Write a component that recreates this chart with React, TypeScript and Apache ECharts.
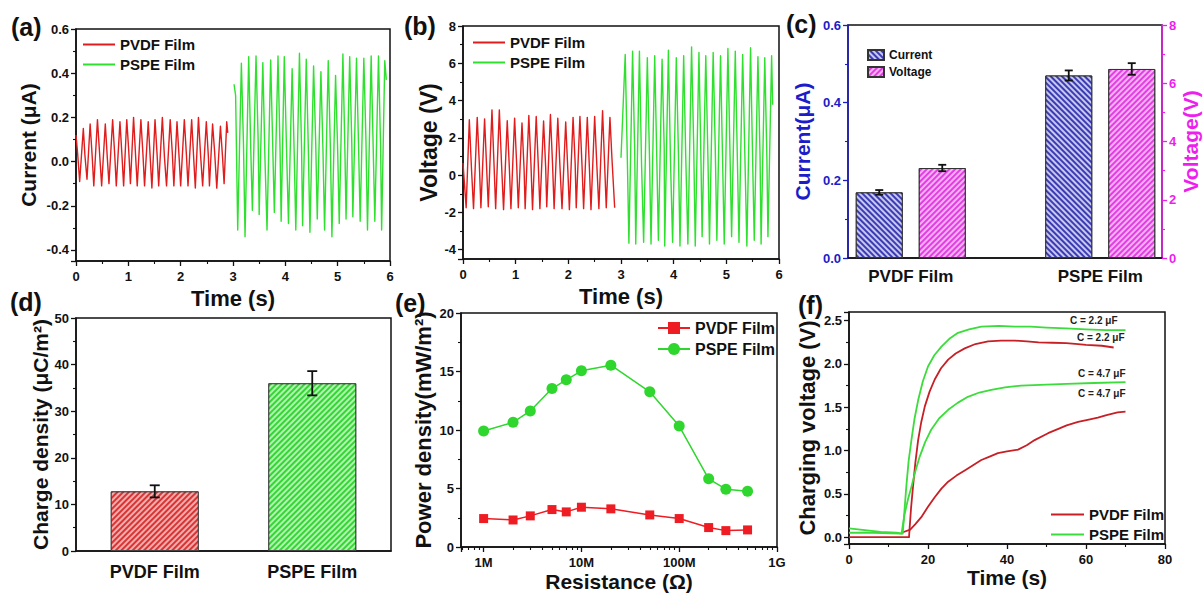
import React, { useEffect, useRef } from 'react';
import * as echarts from 'echarts';

const FONT = '"Liberation Sans", Arial, Helvetica, sans-serif';
const INK = '#111111';

// ---------- (a) current vs time ----------
const aPvdf: number[][] = [
  [0.00, 0.12], [0.03, 0.04],
  [0.07, -0.09], [0.14, 0.15], [0.17, 0.03],
  [0.21, -0.08], [0.27, 0.17], [0.31, 0.02],
  [0.34, -0.11], [0.41, 0.19], [0.45, 0.04],
  [0.49, -0.11], [0.56, 0.17], [0.60, 0.01],
  [0.63, -0.10], [0.70, 0.19], [0.74, 0.03],
  [0.77, -0.11], [0.84, 0.18], [0.88, 0.02],
  [0.91, -0.11], [0.97, 0.19], [1.01, 0.04],
  [1.04, -0.10], [1.10, 0.20], [1.14, 0.02],
  [1.17, -0.11], [1.24, 0.19], [1.28, 0.03],
  [1.31, -0.11], [1.38, 0.18], [1.42, 0.01],
  [1.45, -0.12], [1.51, 0.19], [1.55, 0.03],
  [1.58, -0.11], [1.65, 0.20], [1.69, 0.02],
  [1.73, -0.11], [1.80, 0.19], [1.84, 0.04],
  [1.87, -0.11], [1.93, 0.18], [1.97, 0.02],
  [2.00, -0.11], [2.07, 0.19], [2.11, 0.03],
  [2.14, -0.11], [2.21, 0.19], [2.25, 0.01],
  [2.28, -0.12], [2.34, 0.20], [2.38, 0.03],
  [2.42, -0.11], [2.49, 0.18], [2.53, 0.02],
  [2.55, -0.11], [2.61, 0.17], [2.65, 0.04],
  [2.69, -0.12], [2.76, 0.16], [2.80, 0.02],
  [2.83, -0.10], [2.88, 0.18], [2.90, 0.13],
];
const aPspe: number[][] = [
  [3.02, 0.35], [3.05, 0.30],
  [3.09, -0.31], [3.16, 0.445], [3.20, 0.08],
  [3.23, -0.34], [3.30, 0.475], [3.34, 0.05],
  [3.37, -0.22], [3.44, 0.478], [3.48, 0.10],
  [3.50, -0.24], [3.57, 0.448], [3.61, 0.02],
  [3.65, -0.31], [3.72, 0.46], [3.76, 0.06],
  [3.79, -0.23], [3.86, 0.478], [3.90, 0.04],
  [3.92, -0.27], [3.98, 0.475], [4.02, 0.08],
  [4.06, -0.28], [4.13, 0.42], [4.17, 0.03],
  [4.20, -0.31], [4.27, 0.49], [4.31, 0.06],
  [4.33, -0.29], [4.40, 0.463], [4.44, 0.05],
  [4.47, -0.32], [4.54, 0.433], [4.58, 0.09],
  [4.61, -0.26], [4.68, 0.407], [4.72, 0.04],
  [4.75, -0.31], [4.82, 0.457], [4.86, 0.07],
  [4.89, -0.34], [4.96, 0.39], [5.00, 0.05],
  [5.03, -0.28], [5.10, 0.487], [5.14, 0.03],
  [5.16, -0.26], [5.23, 0.475], [5.27, 0.08],
  [5.29, -0.25], [5.36, 0.468], [5.40, 0.06],
  [5.43, -0.27], [5.50, 0.468], [5.54, 0.10],
  [5.57, -0.31], [5.64, 0.478], [5.68, 0.05],
  [5.71, -0.27], [5.78, 0.478], [5.82, 0.07],
  [5.84, -0.31], [5.90, 0.457], [5.93, 0.37],
];

// ---------- (b) voltage vs time ----------
const bPvdf: number[][] = [
  [0.00, 0.65], [0.06, -1.75], [0.12, 2.97], [0.16, 0.4],
  [0.20, -1.8], [0.27, 3.1], [0.31, 0.6],
  [0.34, -1.75], [0.41, 3.02], [0.45, 0.3],
  [0.48, -1.7], [0.55, 3.5], [0.59, 0.5],
  [0.62, -1.8], [0.69, 3.5], [0.73, 0.7],
  [0.77, -1.85], [0.84, 2.92], [0.88, 0.4],
  [0.91, -1.8], [0.98, 3.06], [1.02, 0.5],
  [1.05, -1.75], [1.12, 2.8], [1.16, 0.3],
  [1.18, -1.8], [1.25, 3.2], [1.29, 0.6],
  [1.32, -1.85], [1.39, 3.15], [1.43, 0.5],
  [1.46, -1.8], [1.53, 2.9], [1.57, 0.4],
  [1.59, -1.7], [1.66, 3.25], [1.70, 0.6],
  [1.73, -1.8], [1.80, 3.05], [1.84, 0.5],
  [1.88, -1.8], [1.95, 2.85], [1.99, 0.3],
  [2.02, -1.85], [2.09, 3.1], [2.13, 0.6],
  [2.15, -1.75], [2.22, 3.15], [2.26, 0.5],
  [2.29, -1.8], [2.36, 3.1], [2.40, 0.4],
  [2.43, -1.85], [2.50, 3.15], [2.54, 0.6],
  [2.58, -1.8], [2.65, 3.45], [2.69, 0.5],
  [2.72, -1.75], [2.79, 3.1], [2.83, 0.8],
  [2.88, -1.75],
];
const bPspe: number[][] = [
  [3.00, 0.93], [3.08, 6.47], [3.12, 0.9],
  [3.15, -3.65], [3.22, 6.65], [3.26, 1.3],
  [3.28, -3.7], [3.35, 6.65], [3.39, 0.6],
  [3.43, -3.6], [3.50, 6.3], [3.54, 1.1],
  [3.57, -3.7], [3.64, 6.4], [3.68, 0.8],
  [3.71, -3.5], [3.78, 6.22], [3.82, 1.5],
  [3.83, -3.8], [3.90, 6.7], [3.94, 0.7],
  [3.98, -3.6], [4.05, 6.3], [4.09, 1.2],
  [4.12, -3.8], [4.19, 6.4], [4.23, 0.9],
  [4.27, -3.7], [4.34, 6.88], [4.38, 1.6],
  [4.41, -3.8], [4.48, 6.58], [4.52, 0.5],
  [4.54, -3.3], [4.61, 6.4], [4.65, 1.0],
  [4.68, -3.7], [4.75, 6.58], [4.79, 1.4],
  [4.82, -3.5], [4.89, 6.4], [4.93, 0.6],
  [4.96, -3.7], [5.03, 6.79], [5.07, 1.1],
  [5.10, -3.3], [5.17, 6.65], [5.21, 0.8],
  [5.24, -3.6], [5.31, 6.47], [5.35, 1.3],
  [5.39, -3.8], [5.46, 6.83], [5.50, 0.7],
  [5.53, -3.5], [5.60, 6.35], [5.64, 1.0],
  [5.66, -3.7], [5.73, 6.3], [5.77, 0.9],
  [5.79, -3.3], [5.86, 6.4], [5.88, 3.77],
];

// ---------- (c) current / voltage bars ----------
const cCats = ['PVDF Film', 'PSPE Film'];
const cCurrent = [0.169, 0.470];
const cCurrentErr = [0.006, 0.013];
const cVoltage = [3.09, 6.49];
const cVoltageErr = [0.11, 0.20];

// ---------- (d) charge density ----------
const dCats = ['PVDF Film', 'PSPE Film'];
const dCharge = [12.8, 36.0];
const dChargeErr = [1.3, 2.6];

// ---------- (e) power density vs resistance ----------
const eRes = [1e6, 2e6, 3e6, 5e6, 7e6, 1e7, 2e7, 5e7, 1e8, 2e8, 3e8, 5e8];
const ePvdf = [2.43, 2.31, 2.66, 3.2, 3.0, 3.4, 3.26, 2.74, 2.43, 1.66, 1.4, 1.46];
const ePspe = [9.91, 10.66, 11.63, 13.54, 14.29, 15.06, 15.54, 13.26, 10.34, 5.83, 4.94, 4.77];
const eMinorTicks = [6e5, 7e5, 8e5, 9e5, 2e6, 3e6, 4e6, 5e6, 6e6, 7e6, 8e6, 9e6,
  2e7, 3e7, 4e7, 5e7, 6e7, 7e7, 8e7, 9e7, 2e8, 3e8, 4e8, 5e8, 6e8, 7e8, 8e8, 9e8];
const eTickLabels: Record<string, string> = { '1000000': '1M', '10000000': '10M', '100000000': '100M', '1000000000': '1G' };

// ---------- (f) charging voltage ----------
const fPvdf22: number[][] = [
  [0, 0.0], [15.2, 0.0], [15.3, 0.07], [15.7, 0.33], [16.2, 0.58], [16.8, 0.86], [17.5, 1.12],
  [18.3, 1.33], [19.2, 1.51], [20.4, 1.68], [21.7, 1.82], [23.3, 1.95], [25.1, 2.05], [27, 2.12],
  [29.3, 2.18], [32, 2.23], [35.2, 2.26], [38.5, 2.27], [42, 2.27], [45, 2.26], [48, 2.25],
  [51.5, 2.245], [55, 2.24], [58, 2.23], [60, 2.22], [64, 2.21], [67, 2.19],
];
const fPvdf47: number[][] = [
  [13.3, 0.05], [15.5, 0.085], [16.8, 0.15], [18.3, 0.23], [20, 0.35], [21.7, 0.46],
  [23.4, 0.56], [25.1, 0.64], [27.2, 0.71], [29.3, 0.77], [31.4, 0.83], [33.5, 0.89],
  [35.6, 0.93], [37.7, 0.97], [40, 0.99], [42.8, 1.01], [45, 1.06], [47, 1.12], [50.4, 1.2],
  [53, 1.25], [55.1, 1.29], [58, 1.33], [61, 1.36], [63, 1.38], [65.2, 1.41], [68, 1.44], [70, 1.45],
];
const fPspe22: number[][] = [
  [0, 0.10], [4, 0.08], [8, 0.06], [12, 0.05], [13.6, 0.04], [14.0, 0.28], [14.5, 0.58],
  [15.1, 0.88], [15.8, 1.12], [16.6, 1.37], [17.5, 1.58], [18.7, 1.80], [20, 1.97], [21.6, 2.10],
  [23.4, 2.2], [25.4, 2.29], [27.6, 2.36], [30.4, 2.40], [33.5, 2.43], [38, 2.44], [42, 2.43],
  [46, 2.43], [50, 2.42], [55, 2.41], [60, 2.40], [65, 2.39], [70, 2.39],
];
const fPspe47: number[][] = [
  [0, 0.05], [6, 0.05], [13.3, 0.04], [14.1, 0.27], [14.9, 0.43], [15.8, 0.58], [16.8, 0.76],
  [17.9, 0.93], [19.3, 1.10], [20.8, 1.24], [22.8, 1.37], [25.1, 1.47], [27.5, 1.55],
  [30.1, 1.62], [33, 1.67], [36, 1.70], [39.5, 1.73], [43.6, 1.75], [50, 1.76], [55.1, 1.77],
  [62, 1.78], [70, 1.79],
];

// ---------- styles ----------
const RED = '#e01c1c';
const GREEN = '#2fe02f';
const RED_E = '#ee1d23';
const GREEN_E = '#2ed62e';
const RED_F = '#c62026';
const GREEN_F = '#3bdc3b';
const BLUE = '#1c1cc8';
const MAGENTA = '#ee1eee';

function merge(base: any, extra: any) {
  const out: any = { ...base, ...extra };
  for (const k of ['axisLine', 'axisTick', 'minorTick', 'axisLabel', 'nameTextStyle', 'splitLine']) {
    if (base[k] || extra[k]) out[k] = { ...(base[k] || {}), ...(extra[k] || {}) };
  }
  return out;
}

const BASE_AXIS: any = {
  axisLine: { show: true, onZero: false, lineStyle: { color: INK, width: 1.5 } },
  axisTick: { show: true, inside: false, length: 5, lineStyle: { color: INK, width: 1.3 } },
  minorTick: { show: true, splitNumber: 2, length: 3, lineStyle: { color: INK, width: 1.1 } },
  splitLine: { show: false },
  minorSplitLine: { show: false },
  axisLabel: { color: INK, fontFamily: FONT, fontWeight: 'bold', fontSize: 13, margin: 7 },
  nameLocation: 'middle',
  nameTextStyle: { color: INK, fontFamily: FONT, fontWeight: 'bold', fontSize: 21 },
};
const ax = (extra: any) => merge(BASE_AXIS, extra);

const isMult = (v: number, step: number) => Math.abs(v / step - Math.round(v / step)) < 1e-6;

const gridBox = (left: number, top: number, width: number, height: number, show = true) => ({
  left, top, width, height, show, borderColor: INK, borderWidth: 1.5,
  backgroundColor: 'transparent', containLabel: false, outerBoundsMode: 'none',
});

const legendText = { fontFamily: FONT, fontWeight: 'bold', color: INK };
const stripName = (n: string) => n.slice(2);
const lineOnlyLegend = { itemStyle: { opacity: 0 } };

function errorBars(xAxisIndex: number, yAxisIndex: number, values: number[], errs: number[], offset: number, cap: number) {
  return {
    type: 'custom',
    xAxisIndex, yAxisIndex,
    silent: true,
    z: 10,
    encode: { x: 0, y: 1 },
    data: values.map((v, i) => [i, v, errs[i]]),
    renderItem: (_p: any, api: any) => {
      const x = api.value(0);
      const y = api.value(1);
      const e = api.value(2);
      const t = api.coord([x, y + e]);
      const b = api.coord([x, y - e]);
      const cx = t[0] + offset;
      const style = { stroke: INK, lineWidth: 1.8 };
      return {
        type: 'group',
        children: [
          { type: 'line', shape: { x1: cx, y1: t[1], x2: cx, y2: b[1] }, style },
          { type: 'line', shape: { x1: cx - cap, y1: t[1], x2: cx + cap, y2: t[1] }, style },
          { type: 'line', shape: { x1: cx - cap, y1: b[1], x2: cx + cap, y2: b[1] }, style },
        ],
      };
    },
  };
}

const hatch = (color: string, rotation: number) => ({
  symbol: 'rect', symbolSize: 1, color, dashArrayX: [1, 0], dashArrayY: [1.6, 1.6], rotation,
});

const E_MIN = 5.87e5;
const C_BAR_W = 47;
const C_BAR_GAP = 16;

function buildOption(): any {
  const lineSeries = (name: string, x: number, y: number, data: any[], color: string, width = 1.5, extra: any = {}) => ({
    type: 'line', name, xAxisIndex: x, yAxisIndex: y, data,
    symbol: 'none', showSymbol: false,
    lineStyle: { color, width, join: 'round' },
    itemStyle: { color },
    ...extra,
  });

  return {
    animation: false,
    backgroundColor: '#ffffff',
    textStyle: { fontFamily: FONT },
    grid: [
      gridBox(76, 29, 314, 232),      // 0 a
      gridBox(463, 26, 316, 233),     // 1 b
      gridBox(848, 25, 314, 233),     // 2 c frame
      gridBox(816, 25, 379, 233, false), // 3 c bars
      gridBox(76, 318, 315, 233),     // 4 d
      gridBox(461, 313, 316, 234),    // 5 e
      gridBox(849, 312, 316, 232),    // 6 f
    ],
    xAxis: [
      ax({ gridIndex: 0, type: 'value', min: 0, max: 6, interval: 1, name: 'Time (s)', nameGap: 26,
        nameTextStyle: { fontSize: 22 }, axisLabel: { margin: 9 } }),
      ax({ gridIndex: 1, type: 'value', min: 0, max: 6, interval: 1, name: 'Time (s)', nameGap: 26,
        nameTextStyle: { fontSize: 22 }, axisLabel: { margin: 9 } }),
      ax({ gridIndex: 2, type: 'value', min: 0, max: 1, axisLabel: { show: false },
        axisTick: { show: false }, minorTick: { show: false } }),
      ax({ gridIndex: 3, type: 'category', data: cCats, axisLine: { show: false },
        axisTick: { show: false }, minorTick: { show: false }, axisLabel: { fontSize: 17, margin: 10 } }),
      ax({ gridIndex: 4, type: 'category', data: dCats, axisTick: { show: false }, minorTick: { show: false },
        axisLabel: { fontSize: 18, margin: 12 } }),
      ax({ gridIndex: 5, type: 'log', logBase: 10, min: E_MIN, max: 1e9, position: 'bottom',
        minorTick: { show: false }, name: 'Resistance (Ω)', nameGap: 24,
        axisLabel: { margin: 9, formatter: (v: number) => eTickLabels[String(Math.round(v))] || '' } }),
      ax({ gridIndex: 5, type: 'value', min: Math.log10(E_MIN), max: 9, position: 'bottom',
        axisLine: { show: false }, axisLabel: { show: false }, minorTick: { show: false },
        axisTick: { show: true, length: 3, customValues: eMinorTicks.map((v) => Math.log10(v)),
          lineStyle: { color: INK, width: 1.1 } } }),
      ax({ gridIndex: 6, type: 'value', min: 0, max: 80, interval: 20, name: 'Time (s)', nameGap: 21,
        axisLabel: { margin: 9 } }),
    ],
    yAxis: [
      ax({ gridIndex: 0, type: 'value', min: -0.45, max: 0.6, splitNumber: 5, name: 'Current (μA)', nameGap: 37,
        axisLabel: { formatter: (v: number) => (isMult(v, 0.2) ? v.toFixed(1) : '') } }),
      ax({ gridIndex: 1, type: 'value', min: -4.5, max: 8, splitNumber: 6, name: 'Voltage (V)', nameGap: 23,
        nameTextStyle: { fontSize: 23 },
        axisLabel: { formatter: (v: number) => (isMult(v, 2) ? String(Math.round(v)) : '') } }),
      ax({ gridIndex: 2, type: 'value', min: 0, max: 0.6, interval: 0.2, name: 'Current(μA)', nameGap: 35,
        axisLine: { lineStyle: { color: BLUE, width: 1.5 } },
        axisTick: { lineStyle: { color: BLUE, width: 1.3 } },
        minorTick: { lineStyle: { color: BLUE, width: 1.1 } },
        axisLabel: { color: BLUE, formatter: (v: number) => v.toFixed(1) },
        nameTextStyle: { color: BLUE } }),
      ax({ gridIndex: 2, type: 'value', position: 'right', min: 0, max: 8, interval: 2, name: 'Voltage(V)', nameGap: 16,
        axisLine: { lineStyle: { color: MAGENTA, width: 1.5 } },
        axisTick: { lineStyle: { color: MAGENTA, width: 1.3 } },
        minorTick: { lineStyle: { color: MAGENTA, width: 1.1 } },
        axisLabel: { color: MAGENTA },
        nameTextStyle: { color: MAGENTA } }),
      { gridIndex: 3, type: 'value', min: 0, max: 0.6, show: false },
      { gridIndex: 3, type: 'value', min: 0, max: 8, show: false },
      ax({ gridIndex: 4, type: 'value', min: 0, max: 50, interval: 10, name: 'Charge density (μC/m²)', nameGap: 25 }),
      ax({ gridIndex: 5, type: 'value', min: 0, max: 20, interval: 5, name: 'Power density(mW/m²)', nameGap: 27,
        nameTextStyle: { fontSize: 22 } }),
      ax({ gridIndex: 6, type: 'value', min: -0.08, max: 2.6, splitNumber: 5, name: 'Charging voltage (V)', nameGap: 31,
        nameTextStyle: { fontSize: 22 },
        axisLabel: { formatter: (v: number) => (isMult(v, 0.5) ? v.toFixed(1) : '') } }),
    ],
    legend: [
      { left: 82, top: 37, orient: 'vertical', padding: 0, itemWidth: 32, itemHeight: 14, itemGap: 5,
        selectedMode: false, data: ['a:PVDF Film', 'a:PSPE Film'], formatter: stripName,
        textStyle: { ...legendText, fontSize: 15 }, ...lineOnlyLegend },
      { left: 472, top: 35, orient: 'vertical', padding: 0, itemWidth: 32, itemHeight: 14, itemGap: 5,
        selectedMode: false, data: ['b:PVDF Film', 'b:PSPE Film'], formatter: stripName,
        textStyle: { ...legendText, fontSize: 15 }, ...lineOnlyLegend },
      { left: 867, top: 49, orient: 'vertical', padding: 0, itemWidth: 16, itemHeight: 10, itemGap: 5,
        icon: 'rect', selectedMode: false, data: ['c:Current', 'c:Voltage'], formatter: stripName,
        textStyle: { ...legendText, fontSize: 12 } },
      { left: 657, top: 320, orient: 'vertical', padding: 0, itemWidth: 32, itemHeight: 15, itemGap: 5,
        selectedMode: false, data: ['e:PVDF Film', 'e:PSPE Film'], formatter: stripName,
        textStyle: { ...legendText, fontSize: 16 } },
      { left: 1050, top: 507, orient: 'vertical', padding: 0, itemWidth: 33, itemHeight: 14, itemGap: 5,
        selectedMode: false, data: ['f:PVDF Film', 'f:PSPE Film'], formatter: stripName,
        textStyle: { ...legendText, fontSize: 15 }, ...lineOnlyLegend },
    ],
    series: [
      lineSeries('a:PVDF Film', 0, 0, aPvdf, RED, 1.4),
      lineSeries('a:PSPE Film', 0, 0, aPspe, GREEN, 1.4),
      lineSeries('b:PVDF Film', 1, 1, bPvdf, RED, 1.4),
      lineSeries('b:PSPE Film', 1, 1, bPspe, GREEN, 1.4),
      {
        type: 'bar', name: 'c:Current', xAxisIndex: 3, yAxisIndex: 4, data: cCurrent,
        barWidth: C_BAR_W, barGap: `${(C_BAR_GAP / C_BAR_W) * 100}%`,
        itemStyle: { color: '#3b3bb8', borderColor: '#333', borderWidth: 1, decal: hatch('rgba(215,215,240,0.9)', Math.PI / 4) },
      },
      {
        type: 'bar', name: 'c:Voltage', xAxisIndex: 3, yAxisIndex: 5, data: cVoltage,
        barWidth: C_BAR_W, barGap: `${(C_BAR_GAP / C_BAR_W) * 100}%`,
        itemStyle: { color: '#e23ee2', borderColor: '#333', borderWidth: 1, decal: hatch('rgba(250,190,250,0.9)', -Math.PI / 4) },
      },
      errorBars(3, 4, cCurrent, cCurrentErr, -(C_BAR_W + C_BAR_GAP) / 2, 4),
      errorBars(3, 5, cVoltage, cVoltageErr, (C_BAR_W + C_BAR_GAP) / 2, 4),
      {
        type: 'bar', name: 'd:Charge', xAxisIndex: 4, yAxisIndex: 6, barWidth: 88,
        data: dCharge.map((v, i) => ({
          value: v,
          itemStyle: i === 0
            ? { color: '#d93434', borderColor: '#444', borderWidth: 1, decal: hatch('rgba(248,185,185,0.9)', -Math.PI / 4) }
            : { color: '#34d634', borderColor: '#444', borderWidth: 1, decal: hatch('rgba(190,248,190,0.9)', -Math.PI / 4) },
        })),
      },
      errorBars(4, 6, dCharge, dChargeErr, 0, 5),
      {
        type: 'line', name: 'e:PVDF Film', xAxisIndex: 5, yAxisIndex: 7,
        data: eRes.map((r, i) => [r, ePvdf[i]]),
        symbol: 'rect', symbolSize: 9, showSymbol: true,
        lineStyle: { color: RED_E, width: 1.5 }, itemStyle: { color: RED_E },
      },
      {
        type: 'line', name: 'e:PSPE Film', xAxisIndex: 5, yAxisIndex: 7,
        data: eRes.map((r, i) => [r, ePspe[i]]),
        symbol: 'circle', symbolSize: 11, showSymbol: true,
        lineStyle: { color: GREEN_E, width: 1.5 }, itemStyle: { color: GREEN_E },
      },
      lineSeries('f:PVDF Film', 7, 8, fPvdf22, RED_F, 1.8),
      lineSeries('f:PVDF Film 4.7', 7, 8, fPvdf47, RED_F, 1.8),
      lineSeries('f:PSPE Film', 7, 8, fPspe22, GREEN_F, 1.8),
      lineSeries('f:PSPE Film 4.7', 7, 8, fPspe47, GREEN_F, 1.8),
    ],
    graphic: [
      { type: 'text', left: 11, top: 14, style: { text: '(a)', fontSize: 25, fontWeight: 'bold', fontFamily: FONT, fill: INK } },
      { type: 'text', left: 404, top: 13, style: { text: '(b)', fontSize: 25, fontWeight: 'bold', fontFamily: FONT, fill: INK } },
      { type: 'text', left: 786, top: 11, style: { text: '(c)', fontSize: 25, fontWeight: 'bold', fontFamily: FONT, fill: INK } },
      { type: 'text', left: 10, top: 289, style: { text: '(d)', fontSize: 25, fontWeight: 'bold', fontFamily: FONT, fill: INK } },
      { type: 'text', left: 395, top: 290, style: { text: '(e)', fontSize: 25, fontWeight: 'bold', fontFamily: FONT, fill: INK } },
      { type: 'text', left: 798, top: 292, style: { text: '(f)', fontSize: 25, fontWeight: 'bold', fontFamily: FONT, fill: INK } },
      { type: 'text', left: 1070, top: 315, style: { text: 'C = 2.2 μF', fontSize: 10, fontWeight: 'bold', fontFamily: FONT, fill: '#222' } },
      { type: 'text', left: 1077, top: 332, style: { text: 'C = 2.2 μF', fontSize: 10, fontWeight: 'bold', fontFamily: FONT, fill: '#222' } },
      { type: 'text', left: 1078, top: 368, style: { text: 'C = 4.7 μF', fontSize: 10, fontWeight: 'bold', fontFamily: FONT, fill: '#222' } },
      { type: 'text', left: 1078, top: 388, style: { text: 'C = 4.7 μF', fontSize: 10, fontWeight: 'bold', fontFamily: FONT, fill: '#222' } },
    ],
  };
}

export default function App() {
  const ref = useRef<HTMLDivElement>(null);
  useEffect(() => {
    if (!ref.current) return;
    const chart = echarts.init(ref.current, null, { renderer: 'svg' });
    chart.setOption(buildOption());
    return () => chart.dispose();
  }, []);
  return (
    <div
      ref={ref}
      style={{ position: 'absolute', left: 0, top: 0, width: 1204, height: 594, background: '#fff' }}
    />
  );
}
